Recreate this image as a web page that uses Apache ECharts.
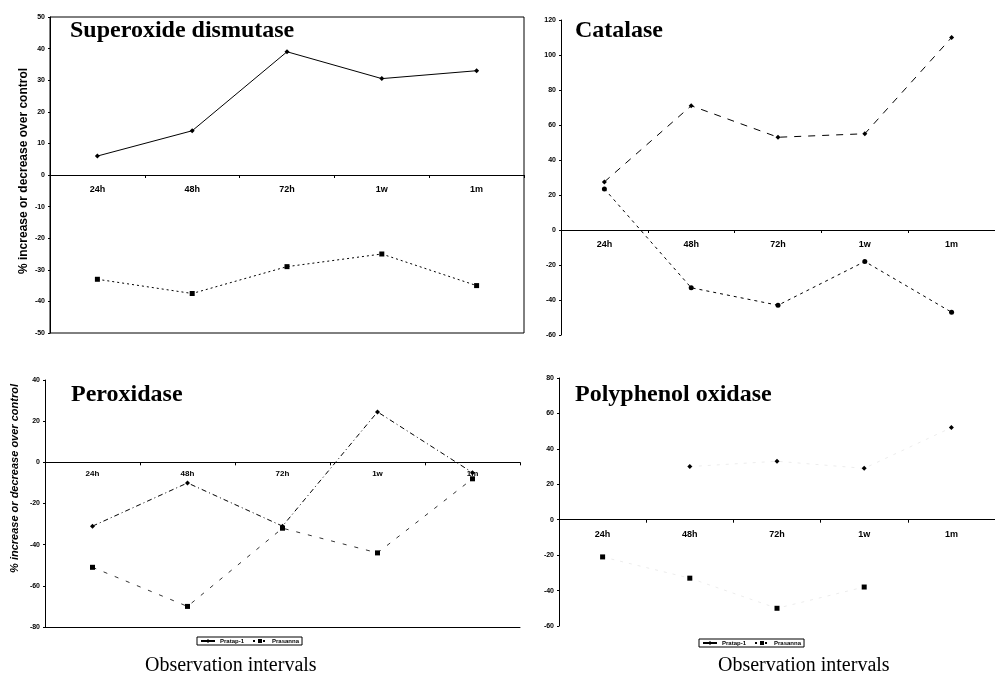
<!DOCTYPE html>
<html><head><meta charset="utf-8">
<script src="https://cdn.jsdelivr.net/npm/echarts@6/dist/echarts.min.js"></script>
<style>html,body{margin:0;padding:0;background:#fff}#c{width:995px;height:678px}</style>
</head><body><div id="c"></div>
<script>
const categories = ['24h', '48h', '72h', '1w', '1m'];
const seriesNames = ['Pratap-1', 'Prasanna'];
// Superoxide dismutase
const sodA = [6, 14, 39, 30.5, 33];
const sodB = [-33, -37.5, -29, -25, -35];
// Catalase
const catA = [27.5, 71, 53, 55, 110];
const catB = [23.5, -33, -43, -18, -47];
// Peroxidase
const poxA = [-31, -10, -31, 24.5, -5];
const poxB = [-51, -70, -32, -44, -8];
// Polyphenol oxidase
const ppoA = [null, 30, 33, 29, 52];
const ppoB = [-21, -33, -50, -38, null];
// axis ranges [min, max, interval]
const sodRange = [-50, 50, 10];
const catRange = [-60, 120, 20];
const poxRange = [-80, 40, 20];
const ppoRange = [-60, 80, 20];
const panelTitles = ['Superoxide dismutase', 'Catalase', 'Peroxidase', 'Polyphenol oxidase'];
const yTitle = '% increase or decrease over control';
const xTitle = 'Observation intervals';

const chart = echarts.init(document.getElementById('c'), null, {renderer: 'canvas'});
const grids = [
  {left: 50, top: 17, width: 474, height: 316, show: true, borderColor: '#000', borderWidth: 1},
  {left: 561, top: 20, width: 440, height: 315},
  {left: 45, top: 380, width: 475, height: 247},
  {left: 559, top: 378, width: 448, height: 248}
];
const ranges = [sodRange, catRange, poxRange, ppoRange];
const xAxes = [], yAxes = [];
grids.forEach((g, i) => {
  const r = ranges[i];
  // place the category axis on the zero line (labels follow it)
  const zeroOffset = -g.height * (0 - r[0]) / (r[1] - r[0]);
  xAxes.push({
    type: 'category', gridIndex: i, data: categories, boundaryGap: true,
    position: 'bottom', offset: zeroOffset,
    axisLine: {onZero: false, lineStyle: {color: '#000', width: 1}},
    axisTick: {show: true, length: 3, inside: false, lineStyle: {color: '#000'}},
    axisLabel: {color: '#000', fontFamily: 'Arial', fontWeight: 'bold', fontSize: i === 2 ? 8 : 9, margin: i === 2 ? 7 : 10},
    splitLine: {show: false}
  });
  yAxes.push({
    type: 'value', gridIndex: i, min: r[0], max: r[1], interval: r[2],
    axisLine: {show: true, lineStyle: {color: '#000', width: 1}},
    axisTick: {show: true, length: 2, lineStyle: {color: '#000'}},
    axisLabel: {color: '#000', fontFamily: 'Arial', fontWeight: 'bold', fontSize: 7, margin: 5},
    splitLine: {show: false},
    name: (i === 0 || i === 2) ? yTitle : '',
    nameLocation: 'middle', nameRotate: 90,
    nameGap: i === 0 ? 20 : 25,
    nameTextStyle: {color: '#000', fontFamily: 'Arial', fontWeight: 'bold', fontSize: i === 0 ? 12 : 11,
      fontStyle: i === 2 ? 'italic' : 'normal', padding: i === 2 ? [0, 0, 0, 50] : [0, 0, 0, 8]}
  });
});
// bottom frame line for peroxidase panel
xAxes.push({
  type: 'category', gridIndex: 2, data: categories, position: 'bottom',
  axisLine: {onZero: false, lineStyle: {color: '#000', width: 1}},
  axisTick: {show: false}, axisLabel: {show: false}, splitLine: {show: false}
});

function mk(name, data, i, sym, lineType, opacity) {
  return {
    name: name, type: 'line', xAxisIndex: i, yAxisIndex: i, data: data,
    symbol: sym, symbolSize: 5, connectNulls: false,
    itemStyle: {color: '#000'},
    lineStyle: {color: '#000', width: 1, type: lineType, opacity: opacity === undefined ? 1 : opacity},
    animation: false
  };
}
const series = [
  mk(seriesNames[0], sodA, 0, 'diamond', 'solid'),
  mk(seriesNames[1], sodB, 0, 'rect', [2, 3]),
  mk(seriesNames[0], catA, 1, 'diamond', [7, 7]),
  mk(seriesNames[1], catB, 1, 'circle', [3, 4]),
  mk(seriesNames[0], poxA, 2, 'diamond', [5, 3, 1, 3]),
  mk(seriesNames[1], poxB, 2, 'rect', [4, 8], 0.8),
  mk(seriesNames[0], ppoA, 3, 'diamond', [3, 6], 0.08),
  mk(seriesNames[1], ppoB, 3, 'rect', [3, 6], 0.08)
];

const titleStyle = {color: '#000', fontFamily: 'Liberation Serif', fontWeight: 'bold', fontSize: 24};
const xTitleStyle = {color: '#000', fontFamily: 'Liberation Serif', fontWeight: 'normal', fontSize: 20};
chart.setOption({
  backgroundColor: '#fff',
  animation: false,
  grid: grids,
  xAxis: xAxes,
  yAxis: yAxes,
  title: [
    {text: panelTitles[0], left: 70, top: 19, padding: 0, textStyle: titleStyle},
    {text: panelTitles[1], left: 575, top: 19, padding: 0, textStyle: titleStyle},
    {text: panelTitles[2], left: 71, top: 383, padding: 0, textStyle: titleStyle},
    {text: panelTitles[3], left: 575, top: 383, padding: 0, textStyle: titleStyle},
    {text: xTitle, left: 145, top: 656, padding: 0, textStyle: xTitleStyle},
    {text: xTitle, left: 718, top: 656, padding: 0, textStyle: xTitleStyle}
  ],
  legend: [
    {left: 197, top: 637, orient: 'horizontal', data: seriesNames, itemWidth: 14, itemHeight: 5, itemGap: 8,
     padding: [1, 3], borderColor: '#000', borderWidth: 1,
     textStyle: {fontSize: 6, fontWeight: 'bold', fontFamily: 'Arial', color: '#000'}},
    {left: 699, top: 639, orient: 'horizontal', data: seriesNames, itemWidth: 14, itemHeight: 5, itemGap: 8,
     padding: [1, 3], borderColor: '#000', borderWidth: 1,
     textStyle: {fontSize: 6, fontWeight: 'bold', fontFamily: 'Arial', color: '#000'}}
  ],
  series: series
});
</script></body></html>
